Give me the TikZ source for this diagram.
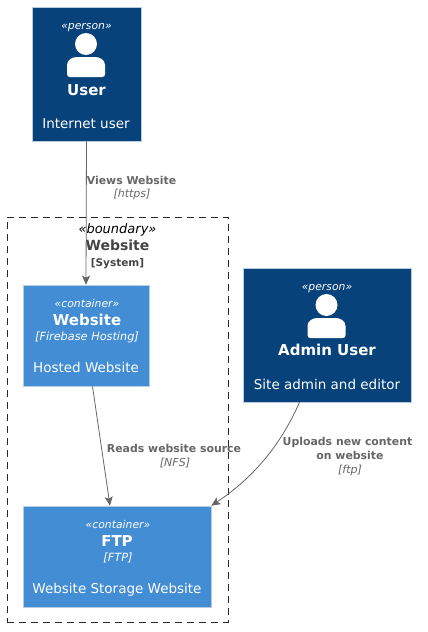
\documentclass[tikz,border=0pt]{standalone}
\usepackage{fontspec}
\setmainfont{DejaVu Sans}
\usepackage{tikz}
\usetikzlibrary{arrows.meta}

\begin{document}
\begin{tikzpicture}[x=1pt,y=-1pt,
box/.style={shape=rectangle,draw=boxline,line width=0.6pt,inner sep=0pt},
person/.style={box,fill=persondark},
container/.style={box,fill=containerblue},
txt/.style={anchor=base,text=white,inner sep=0pt},
stereo/.style={txt,font=\fontsize{10.8}{12}\selectfont\itshape},
title/.style={txt,font=\fontsize{15}{16}\selectfont\bfseries},
tech/.style={txt,font=\fontsize{11.3}{12}\selectfont\itshape},
descr/.style={txt,font=\fontsize{13.5}{14}\selectfont},
rel/.style={txt,text=linegray,font=\fontsize{10.9}{12}\selectfont\bfseries},
reltech/.style={txt,text=linegray,font=\fontsize{11}{12}\selectfont\itshape},
link/.style={draw=linegray,line width=0.8pt,-{Stealth[length=9pt,width=8pt,inset=2pt]}},
personicon/.pic={
\fill[white] (0,0) circle (11);
\fill[white] (-19,23) -- (-19,21) .. controls (-19,16) and (-14,13) .. (-9,13) -- (9,13) .. controls (14,13) and (19,16) .. (19,21) -- (19,30) .. controls (19,32) and (18,33) .. (16,33) -- (-16,33) .. controls (-18,33) and (-19,32) .. (-19,30) -- cycle;
}]
\definecolor{persondark}{HTML}{08427B}
\definecolor{containerblue}{HTML}{438DD5}
\definecolor{boxline}{HTML}{B5CCE3}
\definecolor{linegray}{HTML}{666666}
\definecolor{systemgray}{HTML}{444444}
\useasboundingbox (0,0) rectangle (428,632);

\node[draw=black!85,dashed,dash pattern=on 7pt off 5pt,line width=0.7pt,minimum width=221pt,minimum height=405pt,inner sep=0pt] (boundary) at (117.5,419.5) {};
\node[anchor=base,inner sep=0pt,font=\fontsize{13}{14}\selectfont\itshape] (boundarytype) at (117.5,233) {«boundary»};
\node[anchor=base,inner sep=0pt,text=systemgray,font=\fontsize{14}{16}\selectfont\bfseries] (boundaryname) at (117.5,250) {Website};
\node[anchor=base,inner sep=0pt,text=systemgray,font=\fontsize{10.5}{12}\selectfont\bfseries] (boundarykind) at (117.5,266) {[System]};

\node[person,minimum width=109pt,minimum height=134pt] (user) at (86.5,74) {};
\node[stereo] (usertype) at (86.5,29) {«person»};
\pic at (86,44) {personicon};
\node[title] (username) at (86.5,95) {User};
\node[descr] (userdescr) at (86,128) {Internet user};

\node[person,minimum width=168pt,minimum height=134pt] (admin) at (327,335) {};
\node[stereo] (admintype) at (327,290) {«person»};
\pic at (326.5,305) {personicon};
\node[title] (adminname) at (327,355) {Admin User};
\node[descr] (admindescr) at (327,389) {Site admin and editor};

\node[container,minimum width=126pt,minimum height=101pt] (website) at (86,335.5) {};
\node[stereo] (websitetype) at (87,307) {«container»};
\node[title] (websitename) at (87,325) {Website};
\node[tech] (websitetech) at (87,340) {[Firebase Hosting]};
\node[descr] (websitedescr) at (86,372) {Hosted Website};

\node[container,minimum width=188pt,minimum height=101pt] (ftp) at (117,556.5) {};
\node[stereo] (ftptype) at (118,528) {«container»};
\node[title] (ftpname) at (117,546) {FTP};
\node[tech] (ftptech) at (118,561) {[FTP]};
\node[descr] (ftpdescr) at (117,593) {Website Storage Website};

\draw[link] (user.south) -- (website.north);
\draw[link] ([xshift=6.5pt]website.south) -- ([xshift=-7pt]ftp.north);
\draw[link] ([xshift=-27.5pt]admin.south) .. controls (282,442) and (256,476) .. (ftp.north east);

\node[rel] (viewslabel) at (131.5,184) {Views Website};
\node[reltech] (viewstech) at (132,197) {[https]};
\node[rel] (readslabel) at (174,452) {Reads website source};
\node[reltech] (readstech) at (175,466) {[NFS]};
\node[rel] (uploadslabel) at (347.5,445) {Uploads new content};
\node[rel] (uploadslabelb) at (350,459) {on website};
\node[reltech] (uploadstech) at (350,473) {[ftp]};
\end{tikzpicture}
\end{document}
